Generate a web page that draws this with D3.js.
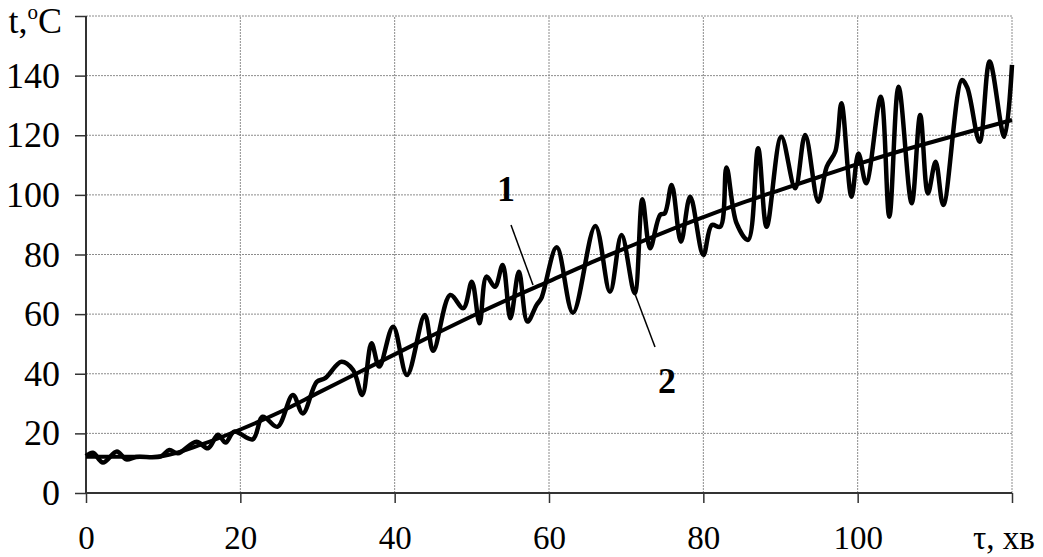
<!DOCTYPE html>
<html>
<head>
<meta charset="utf-8">
<script src="https://cdn.jsdelivr.net/npm/d3@7"></script>
<style>
  body { margin: 0; background: #fff; }
  svg { display: block; }
  text { font-family: "Liberation Serif", "Times New Roman", serif; fill: #000; }
</style>
</head>
<body>
<svg id="chart" width="1043" height="557"></svg>
<script>
// line 1 - smooth (calculated) curve
var tau1  = [0, 5, 10, 15, 20, 25, 30, 35, 40, 45, 50, 55, 60, 65, 70, 75, 80, 85, 90, 95, 100, 105, 110, 115, 120];
var temp1 = [12.2, 12.2, 12.4, 16.3, 21.3, 27, 33.5, 40, 46.5, 53, 59.3, 65.3, 71, 76.8, 82.2, 87.5, 92.5, 97.3, 101.7, 106, 110.3, 114.3, 118, 121.6, 125.1];

// line 2 - measured (oscillating) curve
var tau2  = [0, 0.9, 2.2, 4.0, 5.2, 6.5, 9.7, 10.8, 11.9, 14.3, 15.8, 17.1, 18.1, 19.2, 21.6, 22.9, 24.8, 26.8, 28.1, 29.9,
             31.0, 33.1, 34.6, 35.8, 37.0, 38.0, 39.8, 41.6, 43.9, 45.0, 47.2, 48.9, 50.0, 51.0, 51.9, 53.0, 54.0, 55.0, 56.1, 57.2,
             58.4, 59.0, 61.0, 63.1, 66.0, 67.9, 69.4, 71.1, 72.1, 73.1, 74.4, 75.0, 75.9, 77.1, 78.3, 80.0, 81.1, 82.2, 83.0, 84.3,
             85.8, 87.1, 88.2, 90.1, 91.9, 93.2, 94.9, 96.0, 97.1, 97.9, 99.2, 100.1, 101.1, 103.0, 104.1, 105.3, 107.0, 108.1, 109.1, 110.1,
             111.1, 113.5, 114.2, 115.8, 117.1, 119.0, 120.0];
var temp2 = [12.4, 13.5, 10.2, 13.9, 11.3, 12.1, 12.3, 14.4, 13.3, 17.2, 15.0, 19.5, 16.9, 20.6, 18.0, 25.6, 22.2, 32.9, 26.7, 37.3,
             38.5, 44.0, 41.3, 32.9, 50.2, 42.4, 55.8, 39.6, 59.7, 47.7, 66.4, 62.0, 70.9, 56.9, 72.6, 69.2, 76.5, 58.6, 74.2, 57.5,
             63.1, 65.3, 82.4, 60.5, 89.6, 67.5, 86.5, 67.0, 98.5, 82.1, 93.3, 93.8, 103.3, 84.3, 99.4, 79.8, 89.9, 89.3, 109.2, 90.5,
             84.9, 115.6, 89.3, 119.5, 102.2, 120.1, 97.7, 109.5, 114.5, 130.7, 99.4, 113.9, 103.9, 132.9, 92.7, 136.3, 97.2, 126.8, 100.5, 111.1,
             96.6, 138.5, 136, 117.8, 144.7, 119.5, 143.6];

var xTicks = [0, 20, 40, 60, 80, 100, 120];
var yTicks = [0, 20, 40, 60, 80, 100, 120, 140, 160];
var xTitle = "τ, хв";
var curveLabels = ["1", "2"];

var fs = 36, fsx = 33;
var svg = d3.select("#chart");

var x = d3.scaleLinear().domain([0, 120]).range([86, 1012]);
var y = d3.scaleLinear().domain([0, 160]).range([493, 16]);

// grid
svg.append("g").selectAll("line.h")
  .data(yTicks.slice(1))
  .enter().append("line")
  .attr("x1", x(0)).attr("x2", x(120))
  .attr("y1", function(d){ return y(d); })
  .attr("y2", function(d){ return y(d); })
  .attr("stroke", "#8c8c8c").attr("stroke-width", 1)
  .attr("stroke-dasharray", "2,1");

svg.append("g").selectAll("line.v")
  .data(xTicks.slice(1))
  .enter().append("line")
  .attr("x1", function(d){ return x(d); })
  .attr("x2", function(d){ return x(d); })
  .attr("y1", y(0)).attr("y2", y(160))
  .attr("stroke", "#8c8c8c").attr("stroke-width", 1)
  .attr("stroke-dasharray", "2,1");

// axes
var yAxis = d3.axisLeft(y).tickValues(yTicks).tickSize(11).tickPadding(15)
  .tickFormat(function(d){ return d === 160 ? "" : d; });
var xAxis = d3.axisBottom(x).tickValues(xTicks).tickSize(10).tickPadding(22)
  .tickFormat(function(d){ return d === 120 ? "" : d; });

var gy = svg.append("g").attr("transform", "translate(" + x(0) + ",0)").call(yAxis);
var gx = svg.append("g").attr("transform", "translate(0," + y(0) + ")").call(xAxis);

gy.attr("font-size", fs);
gx.attr("font-size", fsx);
[gx, gy].forEach(function(g){
  g.attr("font-family", "Liberation Serif, Times New Roman, serif");
  g.select(".domain").attr("stroke", "#333").attr("stroke-width", 2);
  g.selectAll(".tick line").attr("stroke", "#333").attr("stroke-width", 1.5);
  g.selectAll(".tick text").attr("fill", "#000");
});
gx.selectAll(".tick text").attr("dy", null).attr("y", 56);
gx.select(".domain").attr("d", "M" + x(0) + ",0H" + x(120));
gy.select(".domain").attr("d", "M0," + y(0) + "V" + y(160));

// axis titles
var yt = svg.append("text").attr("x", 62).attr("y", 33)
  .attr("text-anchor", "end").attr("font-size", fs);
yt.append("tspan").text("t,");
yt.append("tspan").attr("font-size", 21).attr("dy", -14).text("o");
yt.append("tspan").attr("dy", 14).text("C");

svg.append("text").attr("x", 1004).attr("y", 549)
  .attr("text-anchor", "middle").attr("font-size", fsx)
  .text(xTitle);

// curves
var line = d3.line()
  .x(function(d){ return x(d[0]); })
  .y(function(d){ return y(d[1]); })
  .curve(d3.curveCatmullRom.alpha(0.5));

var s1 = tau1.map(function(t, i){ return [t, temp1[i]]; });
var s2 = tau2.map(function(t, i){ return [t, temp2[i]]; });

svg.append("path").datum(s1)
  .attr("d", line).attr("fill", "none")
  .attr("stroke", "#000").attr("stroke-width", 4);

svg.append("path").datum(s2)
  .attr("d", line).attr("fill", "none")
  .attr("stroke", "#000").attr("stroke-width", 4.5)
  .attr("stroke-linejoin", "round");

// leader lines and labels
svg.append("line").attr("x1", 511).attr("y1", 225).attr("x2", 533).attr("y2", 285)
  .attr("stroke", "#000").attr("stroke-width", 1.5);
svg.append("line").attr("x1", 635).attr("y1", 294).attr("x2", 655).attr("y2", 347)
  .attr("stroke", "#000").attr("stroke-width", 1.5);

svg.append("text").attr("x", 506).attr("y", 201).attr("text-anchor", "middle")
  .attr("font-size", 36).attr("font-weight", "bold").text(curveLabels[0]);
svg.append("text").attr("x", 667).attr("y", 393).attr("text-anchor", "middle")
  .attr("font-size", 36).attr("font-weight", "bold").text(curveLabels[1]);
</script>
</body>
</html>
